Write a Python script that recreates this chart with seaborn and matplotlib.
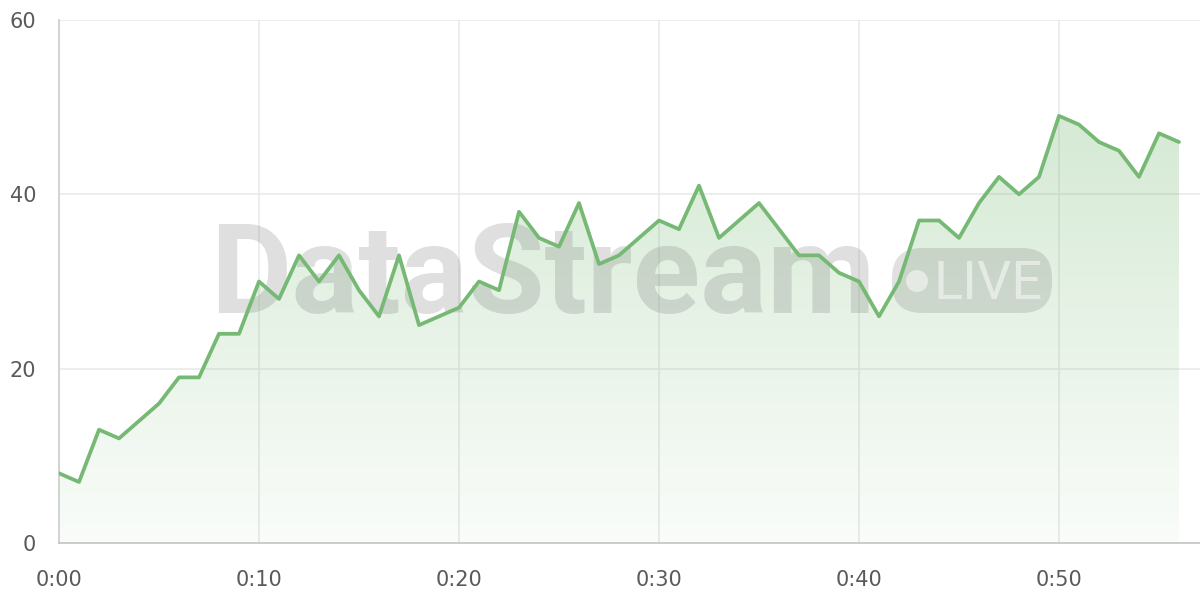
import matplotlib
matplotlib.use("Agg")
import matplotlib.pyplot as plt
import numpy as np
import pandas as pd
import seaborn as sns
from matplotlib.colors import LinearSegmentedColormap
from matplotlib.patches import FancyBboxPatch, Circle
from matplotlib.transforms import IdentityTransform

# Data: one value per minute, 0:00 .. 0:56
minutes = list(range(0, 57))
values = [8, 7, 13, 12, 14, 16, 19, 19, 24, 24,
          30, 28, 33, 30, 33, 29, 26, 33, 25, 26,
          27, 30, 29, 38, 35, 34, 39, 32, 33, 35,
          37, 36, 41, 35, 37, 39, 36, 33, 33, 31,
          30, 26, 30, 37, 37, 35, 39, 42, 40, 42,
          49, 48, 46, 45, 42, 47, 46]
x_ticks = [0, 10, 20, 30, 40, 50]
x_tick_labels = ["0:00", "0:10", "0:20", "0:30", "0:40", "0:50"]
y_ticks = [0, 20, 40, 60]

df = pd.DataFrame({"minute": minutes, "value": values})

sns.set_theme(style="whitegrid")
plt.rcParams["font.family"] = ["DejaVu Sans"]

line_col = "#76b974"
grid_col = "#e8e8e8"

fig = plt.figure(figsize=(12, 6), dpi=100)
ax = fig.add_axes([59 / 1200, 1 - 543 / 600, 1 - 59 / 1200, (543 - 20) / 600])

# gradient area under the line
poly = ax.fill_between(df.minute, df.value, 0, color="none", lw=0)
cmap = LinearSegmentedColormap.from_list(
    "g", [(0.455, 0.722, 0.447, 0.04), (0.455, 0.722, 0.447, 0.32)])
grad = np.linspace(0, 1, 256).reshape(-1, 1)
img = ax.imshow(grad, cmap=cmap, origin="lower", aspect="auto",
                extent=[0, 56, 0, 52], zorder=1)
img.set_clip_path(poly.get_paths()[0], transform=ax.transData)

sns.lineplot(data=df, x="minute", y="value", ax=ax, color=line_col,
             linewidth=2.7, zorder=5)

ax.set_xlim(0, 57.05)
ax.set_ylim(0, 60)
ax.set_xticks(x_ticks)
ax.set_xticklabels(x_tick_labels)
ax.set_yticks(y_ticks)
ax.set_xlabel("")
ax.set_ylabel("")
ax.grid(True, color=grid_col, linewidth=1.1)
for s in ["top", "right"]:
    ax.spines[s].set_visible(False)
ax.spines["left"].set_color("#d0d0d0")
ax.spines["bottom"].set_color("#c8c8c8")
ax.spines["left"].set_linewidth(1.3)
ax.spines["bottom"].set_linewidth(1.3)
ax.tick_params(axis="both", length=11.5, width=1.1, color=grid_col,
               labelcolor="#5a5a5a", labelsize=15, pad=5)
ax.tick_params(axis="x", pad=8)
ax.set_facecolor("white")

# watermark (in pixel coords, under the line)
px = IdentityTransform()
ax.text(210, 600 - 313, "DataStream", fontsize=90, transform=px,
        fontweight="bold", family=["Roboto", "DejaVu Sans"],
        color="#777777", alpha=0.23, ha="left", va="baseline", zorder=3,
        clip_on=False)
pill = FancyBboxPatch((892, 600 - 313), 160, 65, transform=px,
                      boxstyle="round,pad=0,rounding_size=30",
                      facecolor="#777777", alpha=0.22, edgecolor="none",
                      zorder=3, clip_on=False)
ax.add_artist(pill)
ax.add_artist(Circle((917, 600 - 281), 11, transform=px, facecolor="white",
                     alpha=0.5, edgecolor="none", zorder=4, clip_on=False))
ax.text(934, 600 - 299, "LIVE", fontsize=39, transform=px,
        family=["Roboto", "DejaVu Sans"], color="white", alpha=0.5,
        ha="left", va="baseline", zorder=4, clip_on=False)

fig.savefig("out.png", dpi=100, facecolor="white")
